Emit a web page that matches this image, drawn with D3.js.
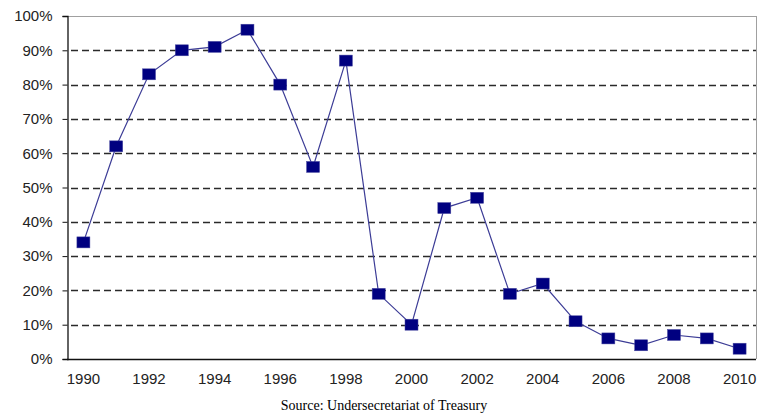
<!DOCTYPE html>
<html><head><meta charset="utf-8">
<script src="https://cdn.jsdelivr.net/npm/d3@7"></script>
<style>body{margin:0;background:#fff}svg{display:block}</style>
</head><body>
<script>
const years = [1990,1991,1992,1993,1994,1995,1996,1997,1998,1999,2000,2001,2002,2003,2004,2005,2006,2007,2008,2009,2010];
const values = [34,62,83,90,91,96,80,56,87,19,10,44,47,19,22,11,6,4,7,6,3];
const yTicks = [0,10,20,30,40,50,60,70,80,90,100];
const xTickLabels = [1990,1992,1994,1996,1998,2000,2002,2004,2006,2008,2010];
const sourceText = "Source: Undersecretariat of Treasury";

const W=774,H=419;
const L=67,R=756,T=16,B=359;
const svg=d3.select("body").append("svg").attr("width",W).attr("height",H);
const x=d3.scaleBand().domain(years).range([L,R]);
const y=d3.scaleLinear().domain([0,100]).range([B,T]);

// grid
svg.append("g").selectAll("line").data(yTicks.filter(d=>d>0&&d<100)).join("line")
  .attr("x1",L+4).attr("x2",R).attr("y1",d=>Math.round(y(d))+0.5).attr("y2",d=>Math.round(y(d))+0.5)
  .attr("stroke","#2a2a2a").attr("stroke-width",1.3).attr("stroke-dasharray","7,4");
// top & right border
svg.append("line").attr("x1",L).attr("x2",R).attr("y1",T+0.5).attr("y2",T+0.5).attr("stroke","#a0a0a0");
svg.append("line").attr("x1",R+0.5).attr("x2",R+0.5).attr("y1",T).attr("y2",B).attr("stroke","#a0a0a0");

// y axis
const ya=svg.append("g").attr("transform",`translate(${L+0.5},0)`)
  .call(d3.axisLeft(y).tickValues(yTicks).tickFormat(d=>d+"%").tickSize(5).tickPadding(10));
ya.select(".domain").attr("stroke","#111").attr("stroke-width",1.3);
ya.selectAll(".tick line").attr("stroke","#111");
ya.selectAll("text").attr("font-family","Arial, 'Liberation Sans', sans-serif").attr("font-size",15).attr("fill","#222");

// x axis
const xa=svg.append("g").attr("transform",`translate(0,${B+0.5})`)
  .call(d3.axisBottom(x).tickValues(xTickLabels).tickSize(0).tickPadding(14));
xa.select(".domain").attr("stroke","#111").attr("stroke-width",1.3).attr("d",`M${L},0H${R}`);
xa.selectAll("text").attr("font-family","Arial, 'Liberation Sans', sans-serif").attr("font-size",15).attr("fill","#222");

const cx=d=>x(d)+x.bandwidth()/2;
const line=d3.line().x((d,i)=>cx(years[i])).y(d=>y(d));
svg.append("path").datum(values).attr("d",line).attr("fill","none").attr("stroke","#3c3c96").attr("stroke-width",1.2);
svg.append("g").selectAll("rect").data(values).join("rect")
  .attr("x",(d,i)=>cx(years[i])-6.5).attr("y",d=>y(d)-5.5).attr("width",13).attr("height",11)
  .attr("fill","#000080").attr("stroke","#4a4aa0").attr("stroke-width",0.5);

svg.append("text").attr("x",384).attr("y",410).attr("text-anchor","middle")
  .attr("font-family","'Liberation Serif','Times New Roman',serif").attr("font-size",14).attr("fill","#000").text(sourceText);
</script>
</body></html>
